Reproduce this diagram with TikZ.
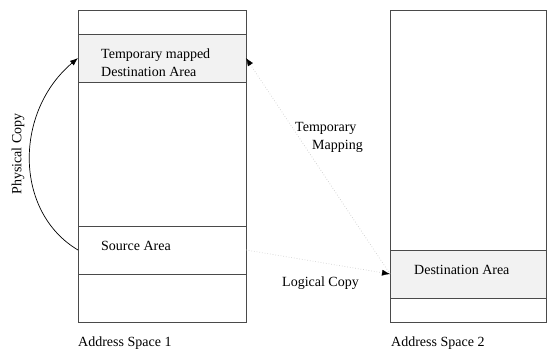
\documentclass[tikz,border=0pt]{standalone}
\usepackage{fontspec}
\setmainfont{Liberation Serif}
\usetikzlibrary{arrows.meta,calc}
\definecolor{boxline}{HTML}{4A4A4A}
\definecolor{areafill}{HTML}{F2F2F2}
\definecolor{dotline}{HTML}{D0D0D0}
\begin{document}
\begin{tikzpicture}[x=1pt,y=-1pt,
  font=\fontsize{14}{18}\selectfont,
  row/.style={draw=boxline, line width=0.9pt, rectangle, anchor=north west,
    inner sep=0pt, outer sep=0pt},
  lrow/.style={row, minimum width=168pt},
  rrow/.style={row, minimum width=156pt},
  hl/.style={fill=areafill},
  tip/.style={-{Latex[length=8pt,width=6pt]}},
  lbl/.style={inner sep=0pt, anchor=base west}
]
\useasboundingbox (0,0) rectangle (547,349);
% Address space 1
\node[lrow, minimum height=24pt] (l1) at (78,10) {};
\node[lrow, hl, minimum height=48pt] (tmp) at (78,34) {};
\node[lrow, minimum height=144pt] (l3) at (78,82) {};
\node[lrow, minimum height=48pt] (src) at (78,226) {};
\node[lrow, minimum height=48pt] (l5) at (78,274) {};
% Address space 2
\node[rrow, minimum height=240pt] (r1) at (390,10) {};
\node[rrow, hl, minimum height=48pt] (dst) at (390,250) {};
\node[rrow, minimum height=24pt] (r3) at (390,298) {};
% row texts
\node[lbl] (tmptxt1) at (101,58) {Temporary mapped};
\node[lbl] (tmptxt2) at (101,76.5) {Destination Area};
\node[lbl] (srctxt) at (101,250) {Source Area};
\node[lbl] (dsttxt) at (414,274) {Destination Area};
% captions
\node[lbl] (cap1) at (78,346) {Address Space 1};
\node[lbl] (cap2) at (391,346) {Address Space 2};
% Physical copy
\draw[tip, line width=0.7pt] (src.west) .. controls (14,212) and (14,112) .. (tmp.west);
\node[inner sep=0pt, rotate=90] (phys) at (18,154) {Physical Copy};
% Temporary mapping
\draw[dotline, dotted, line width=0.7pt] (dst.west) -- (tmp.east);
\coordinate (tmtail) at ($(tmp.east)!7pt!(dst.west)$);
\draw[tip, black, line width=0.4pt] (tmtail) -- (tmp.east);
\node[lbl] (tmap1) at (295,131) {Temporary};
\node[lbl] (tmap2) at (312,149) {Mapping};
% Logical copy
\draw[dotline, dotted, line width=0.7pt] (src.east) -- (dst.west);
\coordinate (lctail) at ($(dst.west)!7pt!(src.east)$);
\draw[tip, black, line width=0.4pt] (lctail) -- (dst.west);
\node[lbl] (lcopy) at (282,286) {Logical Copy};
\end{tikzpicture}
\end{document}
